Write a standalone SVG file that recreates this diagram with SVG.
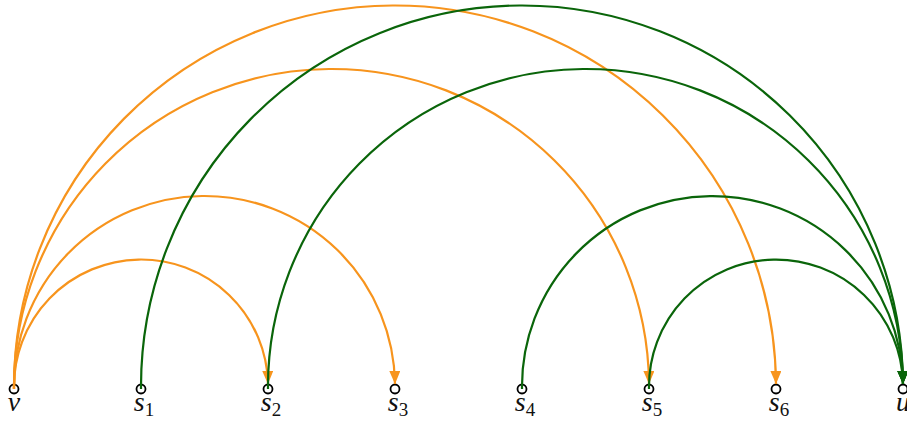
<svg xmlns="http://www.w3.org/2000/svg" width="907" height="424" viewBox="0 0 907 424">
<style>
.edge{fill:none;stroke-width:2.2}
.or{stroke:#f7941d}
.gr{stroke:#0a650a}
.node circle{fill:#fff;stroke:#000;stroke-width:1.8}
.sub{font-style:normal;font-size:19px}
</style>
<defs>
<marker id="ao" markerUnits="userSpaceOnUse" markerWidth="14" markerHeight="12" refX="13" refY="5.5" orient="auto"><path d="M0,0 L13,5.5 L0,11 z" fill="#f7941d"/></marker>
<marker id="ag" markerUnits="userSpaceOnUse" markerWidth="14" markerHeight="12" refX="13" refY="5.5" orient="auto"><path d="M0,0 L13,5.5 L0,11 z" fill="#0a650a"/></marker>
</defs>
<g id="nodes" font-family="Liberation Serif, DejaVu Serif, serif" font-style="italic" font-size="28" fill="#111" text-anchor="middle">
<g id="v" class="node"><circle cx="14" cy="389" r="4.5"/><text x="14" y="411">v</text></g>
<g id="s1" class="node"><circle cx="141" cy="389" r="4.5"/><text x="144" y="411">s<tspan class="sub" dy="5">1</tspan></text></g>
<g id="s2" class="node"><circle cx="268" cy="389" r="4.5"/><text x="271" y="411">s<tspan class="sub" dy="5">2</tspan></text></g>
<g id="s3" class="node"><circle cx="395" cy="389" r="4.5"/><text x="398" y="411">s<tspan class="sub" dy="5">3</tspan></text></g>
<g id="s4" class="node"><circle cx="522" cy="389" r="4.5"/><text x="525" y="411">s<tspan class="sub" dy="5">4</tspan></text></g>
<g id="s5" class="node"><circle cx="649" cy="389" r="4.5"/><text x="652" y="411">s<tspan class="sub" dy="5">5</tspan></text></g>
<g id="s6" class="node"><circle cx="776" cy="389" r="4.5"/><text x="779" y="411">s<tspan class="sub" dy="5">6</tspan></text></g>
<g id="u" class="node"><circle cx="903" cy="389" r="4.5"/><text x="903" y="411">u</text></g>
</g>
<g id="connectors">
<path class="edge or" marker-end="url(#ao)" d="M14 389 A127 127 0 0 1 268 384"/>
<path class="edge or" marker-end="url(#ao)" d="M14 389 A190.5 190.5 0 0 1 395 384"/>
<path class="edge or" marker-end="url(#ao)" d="M14 389 A317.5 317.5 0 0 1 649 384"/>
<path class="edge or" marker-end="url(#ao)" d="M14 389 A381 381 0 0 1 776 384"/>
<path class="edge gr" marker-end="url(#ag)" d="M141 389 A381 381 0 0 1 903 384"/>
<path class="edge gr" marker-end="url(#ag)" d="M268 389 A317.5 317.5 0 0 1 903 384"/>
<path class="edge gr" marker-end="url(#ag)" d="M522 389 A190.5 190.5 0 0 1 903 384"/>
<path class="edge gr" marker-end="url(#ag)" d="M649 389 A127 127 0 0 1 903 384"/>
</g>
</svg>
